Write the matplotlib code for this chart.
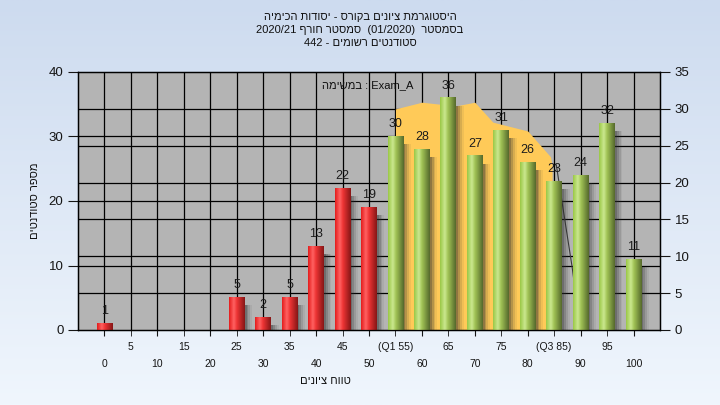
import re
import numpy as np
import matplotlib
matplotlib.use('Agg')
import matplotlib.pyplot as plt
from matplotlib.colors import LinearSegmentedColormap

plt.rcParams['font.family'] = ['Liberation Sans', 'DejaVu Sans']

# grade bins and number of students in each
grades = [0, 5, 10, 15, 20, 25, 30, 35, 40, 45, 50, 55, 60, 65, 70, 75, 80, 85, 90, 95, 100]
counts = [1, 0, 0, 0, 0, 5, 2, 5, 13, 22, 19, 30, 28, 36, 27, 31, 26, 23, 24, 32, 11]
pass_grade = 55

upper_labels = ['5', '15', '25', '35', '45', '(Q1 55)', '65', '75', '(Q3 85)', '95']
lower_labels = ['0', '10', '20', '30', '40', '50', '60', '70', '80', '90', '100']

# orange Q1-Q3 band (read on the right axis)
band_x = [55, 60, 66.4, 70, 73.4, 80, 84.3, 84.6]
band_y = [30.0, 30.9, 30.4, 30.9, 28.2, 27.0, 23.5, 22.4]
# thin dark line after Q3 (right axis)
tail_x = [85.4, 88.4, 89.7]
tail_y = [22.4, 8.5, 1.4]

title_lines = ['היסטוגרמת ציונים בקורס - יסודות הכימיה',
               'בסמסטר  (01/2020)  סמסטר חורף 2020/21',
               'סטודנטים רשומים - 442']
task_text = 'Exam_A : במשימה'
xlabel = 'טווח ציונים'
ylabel = 'מספר סטודנטים'

LEFT_MAX = 40
RIGHT_MAX = 35


def heb(s):
    # matplotlib has no bidi: put the text in visual order
    r = s[::-1].translate(str.maketrans('()', ')('))
    return re.sub(r'[0-9A-Za-z_/.]+', lambda m: m.group(0)[::-1], r)


def r2l(v):
    return np.asarray(v, dtype=float) * LEFT_MAX / RIGHT_MAX


fig = plt.figure(figsize=(7.2, 4.05), dpi=100)

# background gradient
bg = fig.add_axes([0, 0, 1, 1], zorder=-10)
bg_cmap = LinearSegmentedColormap.from_list('bg', ['#cddbef', '#f0f6fd'])
bg.imshow(np.linspace(0, 1, 256).reshape(-1, 1), cmap=bg_cmap, aspect='auto', extent=[0, 1, 0, 1])
bg.axis('off')

ax = fig.add_axes([78 / 720, 1 - 330 / 405, 582 / 720, 258 / 405])
ax.set_facecolor('#b4b4b4')

# grid from both axes
for v in range(10, LEFT_MAX, 10):
    ax.axhline(v, color='black', lw=0.9, zorder=1)
for v in range(5, RIGHT_MAX, 5):
    ax.axhline(r2l(v), color='black', lw=0.9, zorder=1)
for g in grades:
    ax.axvline(g, color='black', lw=0.9, zorder=1)

ax.fill_between(band_x, r2l(band_y), 0, color='#ffca58', lw=0, zorder=2)
ax.plot(tail_x, r2l(tail_y), color='#3a3a3a', lw=0.8, zorder=2)

red_cmap = LinearSegmentedColormap.from_list(
    'red', [(0, '#e41c1c'), (0.3, '#ff6262'), (0.5, '#ee3434'), (1, '#861616')])
green_cmap = LinearSegmentedColormap.from_list(
    'green', [(0, '#9ac846'), (0.3, '#cbe890'), (0.5, '#a2c456'), (1, '#55692c')])
grad = np.linspace(0, 1, 64).reshape(1, -1)

w = 3.0
x = np.array(grades, dtype=float)
h = np.array(counts, dtype=float)
show = h > 0

# soft shadow to the right of each bar
for off, a in [(0.35, 0.28), (0.7, 0.2), (1.05, 0.13), (1.4, 0.07)]:
    ax.bar(x[show] + off, h[show] - 0.5, width=w, bottom=-0.7, color='#303030',
           alpha=a, lw=0, zorder=2.5)

for g, c in zip(grades, counts):
    if c == 0:
        continue
    cmap = red_cmap if g < pass_grade else green_cmap
    ax.imshow(grad, cmap=cmap, aspect='auto', interpolation='bilinear',
              extent=[g - w / 2, g + w / 2, 0, c], zorder=3)
    ax.annotate(str(c), (g, c), xytext=(0, 4.5), textcoords='offset points',
                ha='center', va='bottom', fontsize=9, color='#1c1c1c', zorder=4)

ax.set_xlim(-5, 105)
ax.set_ylim(0, LEFT_MAX)
ax.set_yticks(range(0, LEFT_MAX + 1, 10))
ax.tick_params(axis='y', length=7, labelsize=9.5, colors='#151515', direction='out')

ax.set_xticks(grades[::2], lower_labels)
ax.set_xticks(grades[1::2], upper_labels, minor=True)
ax.tick_params(axis='x', which='major', length=4, pad=17, labelsize=7.5, colors='#151515')
ax.tick_params(axis='x', which='minor', length=4, pad=5, labelsize=7.5, colors='#151515')

ax2 = ax.twinx()
ax2.set_ylim(0, RIGHT_MAX)
ax2.set_yticks(range(0, RIGHT_MAX + 1, 5))
ax2.tick_params(axis='y', length=7, labelsize=9.5, colors='#151515', direction='out')

for a in (ax, ax2):
    for s in a.spines.values():
        s.set_color('black')
        s.set_linewidth(0.9)

for i, line in enumerate(title_lines):
    fig.text(0.5, 1 - (17 + 13 * i) / 405, heb(line), ha='center', va='center',
             fontsize=8, color='#101010')

fig.text(322 / 720, 1 - 85 / 405, heb(task_text), ha='left', va='center',
         fontsize=8, color='#101010')
fig.text(325 / 720, 1 - 381 / 405, heb(xlabel), ha='center', va='center',
         fontsize=8, color='#101010')
fig.text(35 / 720, 1 - 201 / 405, heb(ylabel), ha='center', va='center',
         rotation=90, fontsize=8, color='#101010')

fig.savefig('out.png', dpi=100)
